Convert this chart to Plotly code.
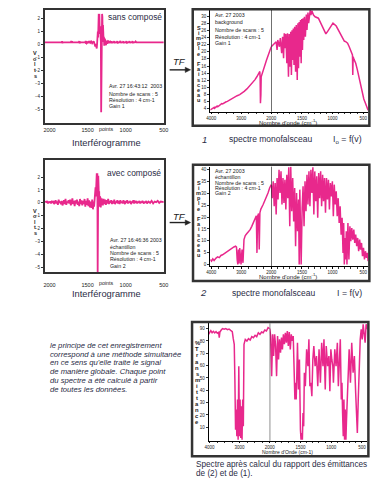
import plotly.graph_objects as go

W, H = 388, 481
PINK = "#E8288C"
DARK = "#333333"
NAVY = "#2a2c45"
FONT = "Liberation Sans"

# ---------------- data ----------------
interf1_points = [2060, 2000, 1900, 1840, 1835, 1830, 1825, 1780, 1720, 1715,
                  1710, 1705, 1700, 1660, 1615, 1610, 1605, 1600, 1595, 1560,
                  1530, 1525, 1520, 1515, 1510, 1500, 1490, 1480, 1470, 1460,
                  1450, 1440, 1430, 1420, 1410, 1400, 1395, 1390, 1385, 1380,
                  1375, 1370, 1366, 1362, 1358, 1354, 1350, 1346, 1342, 1338,
                  1334, 1330, 1326, 1322, 1318, 1314, 1310, 1306, 1302, 1298,
                  1294, 1290, 1286, 1282, 1278, 1274, 1270, 1266, 1262, 1258,
                  1254, 1250, 1246, 1242, 1238, 1234, 1230, 1226, 1222, 1218,
                  1210, 1200, 1190, 1185, 1180, 1175, 1160, 1150, 1145, 1140,
                  1120, 1110, 1105, 1100, 1080, 1070, 1065, 1060, 1040, 1030,
                  1025, 1020, 1000, 990, 985, 980, 960, 950, 945, 940,
                  920, 910, 905, 900, 880, 870, 860, 800, 700, 500]
interf1_volts = [0.17, 0.17, 0.17, 0.17, 0.25, 0.10, 0.17, 0.17, 0.17, 0.27,
                 0.12, 0.24, 0.17, 0.17, 0.17, 0.26, 0.08, 0.22, 0.17, 0.17,
                 0.17, 0.28, 0.05, 0.25, 0.10, 0.17, 0.20, 0.12, 0.27, 0.15,
                 0.22, 0.10, 0.17, 0.25, 0.05, -0.15, 0.05, -0.25, -0.10, -0.30,
                 0.10, 0.45, 1.00, 0.55, 1.60, 2.35, 0.80, 2.35, 1.20, 0.90,
                 1.40, 0.60, 0.20, -5.20, -2.00, 0.40, 2.35, 2.10, 0.30, 1.50,
                 0.90, 0.20, 0.60, -0.10, 0.45, 0.00, 0.35, 0.05, 0.30, -0.05,
                 0.30, 0.10, 0.28, 0.05, 0.25, 0.08, 0.26, 0.10, 0.24, 0.12,
                 0.17, 0.22, 0.12, 0.25, 0.10, 0.17, 0.17, 0.26, 0.10, 0.17,
                 0.17, 0.25, 0.08, 0.17, 0.17, 0.27, 0.10, 0.17, 0.17, 0.24,
                 0.10, 0.17, 0.17, 0.25, 0.08, 0.17, 0.17, 0.26, 0.12, 0.17,
                 0.17, 0.25, 0.10, 0.17, 0.17, 0.24, 0.17, 0.17, 0.17, 0.17]

interf2_points = [2060, 2040, 2030, 2020, 2010, 2000, 1990, 1980, 1970, 1960,
                  1950, 1940, 1930, 1920, 1910, 1900, 1890, 1880, 1870, 1860,
                  1850, 1840, 1830, 1820, 1810, 1800, 1790, 1780, 1770, 1760,
                  1750, 1740, 1730, 1720, 1710, 1700, 1690, 1680, 1670, 1660,
                  1650, 1640, 1630, 1620, 1610, 1600, 1590, 1580, 1570, 1560,
                  1550, 1540, 1530, 1520, 1510, 1500, 1490, 1480, 1470, 1460,
                  1450, 1440, 1430, 1420, 1415, 1410, 1405, 1400, 1396, 1392,
                  1388, 1384, 1380, 1376, 1372, 1368, 1364, 1360, 1356, 1352,
                  1348, 1344, 1340, 1336, 1332, 1328, 1324, 1320, 1316, 1312,
                  1305, 1300, 1290, 1280, 1270, 1260, 1250, 1240, 1230, 1220,
                  1210, 1200, 1190, 1180, 1170, 1160, 1150, 1140, 1130, 1120,
                  1110, 1100, 1090, 1080, 1070, 1060, 1050, 1040, 1030, 1020,
                  1010, 1000, 990, 980, 970, 960, 950, 940, 930, 920,
                  910, 900, 890, 880, 870, 860, 850, 840, 830, 820,
                  810, 800, 790, 780, 770, 760, 750, 740, 730, 720,
                  700, 680, 660, 640, 620, 600, 580, 560, 540, 500]
interf2_volts = [0.10, 0.05, 0.15, -0.05, 0.10, 0.00, 0.12, -0.05, 0.08, 0.00,
                 0.15, -0.10, 0.05, 0.20, -0.05, 0.10, -0.15, 0.25, 0.00, 0.10,
                 -0.10, 0.15, -0.20, 0.05, 0.20, -0.10, 0.30, -0.15, 0.10, 0.00,
                 0.20, -0.05, 0.25, -0.20, 0.10, 0.35, -0.10, 0.15, -0.25, 0.20,
                 -0.05, 0.25, -0.15, 0.10, -0.25, 0.30, -0.10, 0.20, -0.20, 0.15,
                 -0.10, 0.30, -0.30, 0.15, -0.15, 0.35, -0.25, 0.20, -0.35, 0.10,
                 -0.40, 0.25, -0.50, 0.10, -0.30, 0.40, -0.20, 0.60, 1.20, 0.50,
                 2.20, 1.00, 2.30, 0.80, 2.30, -5.40, 0.50, 2.10, 1.30, 0.40,
                 0.90, -0.30, 0.50, -0.20, 0.40, -0.35, 0.30, -0.10, 0.35, -0.15,
                 0.25, -0.20, 0.30, -0.10, 0.25, -0.15, 0.20, -0.05, 0.30, -0.10,
                 0.15, 0.00, 0.20, -0.10, 0.15, -0.05, 0.25, -0.10, 0.10, 0.00,
                 0.20, -0.05, 0.15, -0.10, 0.20, 0.00, 0.10, -0.05, 0.20, 0.05,
                 -0.10, 0.15, 0.00, 0.20, -0.05, 0.10, 0.00, 0.15, -0.10, 0.10,
                 0.00, 0.20, -0.05, 0.10, 0.05, 0.15, -0.05, 0.10, 0.00, 0.15,
                 -0.05, 0.10, 0.00, 0.15, 0.05, -0.05, 0.10, 0.00, 0.15, -0.05,
                 0.10, 0.00, 0.15, -0.05, 0.10, 0.05, 0.15, 0.00, 0.10, 0.05]

# spectrum 1 : background single beam (I0)
s1_left_wn = [4030, 4000, 3950, 3900, 3890, 3850, 3800, 3780, 3730, 3700,
              3650, 3620, 3560, 3500, 3460, 3400, 3350, 3300, 3250, 3200,
              3135, 3050, 2970, 2900, 2810, 2730, 2650, 2600, 2540, 2480,
              2430, 2400, 2380, 2370, 2360, 2352, 2345, 2335, 2325, 2300,
              2270, 2215, 2160, 2110, 2055, 2000]
s1_left_val = [3.7, 3.9, 4.1, 4.4, 4.2, 4.5, 4.8, 4.6, 5.0, 5.2,
               5.5, 5.4, 5.8, 6.0, 6.1, 6.4, 6.7, 7.0, 7.3, 7.5,
               7.7, 8.0, 8.4, 8.9, 9.6, 10.3, 11.0, 11.5, 12.2, 13.0,
               13.6, 14.0, 14.5, 12.5, 5.6, 6.0, 8.0, 13.0, 13.3, 13.8,
               14.3, 16.0, 17.6, 18.8, 20.0, 21.4]
s1_right_wn = [2000, 1973, 1947, 1920, 1905, 1894, 1867, 1852, 1830, 1815,
               1799, 1788, 1777, 1762, 1746, 1735, 1719, 1708, 1698, 1682,
               1671, 1661, 1650, 1640, 1629, 1618, 1603, 1592, 1576, 1565,
               1555, 1544, 1534, 1523, 1512, 1502, 1491, 1481, 1470, 1459,
               1443, 1428, 1417, 1401, 1390, 1374, 1364, 1353, 1337, 1311,
               1284, 1231, 1178, 1141, 1109, 1077, 1046, 993, 940, 887,
               834, 808, 781, 755, 728, 702, 675, 670, 664, 648,
               622, 596, 569, 543, 516, 490, 463, 436, 420]
s1_right_val = [21.4, 21.9, 22.5, 22.8, 20.5, 23.3, 21.4, 23.8, 19.6, 24.2,
                18.2, 25.2, 21.0, 25.0, 16.8, 25.2, 13.0, 25.0, 15.8, 25.6,
                13.5, 26.0, 17.7, 26.5, 16.3, 27.0, 14.4, 27.5, 12.1, 28.0,
                15.4, 28.3, 18.6, 28.9, 16.8, 29.2, 20.5, 29.4, 23.3, 29.8,
                24.2, 30.4, 26.1, 31.0, 28.0, 31.5, 31.7, 30.3, 31.5, 30.3,
                29.8, 29.4, 27.5, 26.0, 25.0, 25.8, 26.6, 28.0, 27.2, 25.6,
                23.8, 23.0, 22.8, 22.4, 21.4, 20.0, 19.1, 13.5, 18.6, 17.8,
                16.8, 15.0, 13.0, 10.5, 8.4, 6.8, 5.6, 4.0, 3.6]

# spectrum 2 : sample single beam (I)
s2_left_wn = [4032, 3989, 3946, 3903, 3838, 3784, 3730, 3676, 3622, 3568,
              3514, 3460, 3405, 3351, 3297, 3243, 3189, 3157, 3135, 3114,
              3092, 3070, 3049, 3027, 3005, 2973, 2941, 2908, 2865, 2811,
              2757, 2703, 2649, 2595, 2541, 2497, 2476, 2454, 2422, 2400,
              2378, 2346, 2270, 2195, 2108, 2054, 2000]
s2_left_val = [2.1, 1.4, 2.4, 1.7, 2.7, 3.2, 2.9, 3.8, 4.1, 4.6,
               5.2, 5.5, 6.0, 6.6, 6.9, 7.4, 7.7, 7.3, 2.1, 0.0,
               6.3, 0.4, 6.9, 1.0, 0.0, 6.3, 0.7, 10.5, 12.2, 13.1,
               13.9, 14.7, 16.1, 17.5, 19.0, 20.6, 4.9, 20.4, 21.5, 6.3,
               21.8, 23.4, 25.3, 27.4, 30.2, 32.3, 33.7]
s2_right_wn = [2000, 1984, 1968, 1952, 1936, 1920, 1905, 1889, 1873, 1857,
               1841, 1825, 1809, 1793, 1777, 1762, 1746, 1730, 1714, 1698,
               1682, 1666, 1650, 1634, 1618, 1603, 1587, 1571, 1555, 1544,
               1534, 1523, 1512, 1496, 1481, 1465, 1449, 1433, 1417, 1401,
               1385, 1369, 1353, 1337, 1321, 1305, 1290, 1274, 1258, 1242,
               1226, 1210, 1194, 1178, 1162, 1147, 1131, 1115, 1099, 1083,
               1067, 1051, 1035, 1019, 1003, 987, 972, 956, 940, 924,
               908, 892, 876, 860, 844, 829, 818, 808, 797, 786,
               776, 765, 749, 733, 717, 702, 686, 670, 653, 638,
               622, 606, 590, 574, 558, 543, 527, 511, 495, 479,
               463, 447, 431, 420]
s2_right_val = [33.7, 28.0, 35.1, 24.6, 34.4, 21.1, 36.5, 27.4, 40.0, 30.2,
                39.3, 25.3, 36.5, 26.0, 35.8, 23.2, 37.9, 28.0, 41.0, 16.1,
                41.4, 22.5, 36.5, 18.2, 32.3, 7.7, 30.2, 14.0, 27.4, 0.0,
                31.6, 8.4, 0.0, 23.9, 33.0, 16.1, 35.1, 22.5, 37.9, 25.3,
                39.3, 24.6, 40.0, 30.2, 41.0, 21.1, 39.3, 26.7, 37.2, 19.7,
                38.6, 28.0, 39.3, 24.6, 37.9, 26.7, 36.5, 21.8, 36.5, 27.4,
                35.8, 23.2, 34.4, 28.7, 35.1, 20.4, 33.7, 25.3, 30.9, 20.4,
                28.0, 17.5, 24.6, 12.6, 19.7, 4.9, 17.5, 0.0, 11.2, 2.1,
                14.0, 0.0, 17.5, 2.1, 16.1, 9.8, 15.4, 10.5, 14.7, 9.1,
                12.6, 7.7, 11.2, 5.6, 10.5, 6.3, 9.1, 3.5, 7.0, 2.1,
                5.6, 2.8, 4.9, 1.4]

# spectrum 3 : % transmittance (ratio 2 / 1)
s3_left_wn = [4032, 4000, 3957, 3914, 3870, 3827, 3784, 3741, 3697, 3676,
              3654, 3611, 3568, 3514, 3459, 3405, 3351, 3297, 3243, 3211,
              3178, 3157, 3135, 3114, 3092, 3070, 3049, 3027, 3005, 2984,
              2962, 2941, 2919, 2897, 2876, 2854, 2811, 2757, 2703, 2649,
              2595, 2541, 2486, 2432, 2378, 2324, 2270, 2216, 2162, 2108,
              2054, 2000]
s3_left_val = [85.4, 86.7, 88.4, 86.7, 87.8, 86.5, 87.6, 86.2, 87.0, 82.7,
               87.3, 88.9, 90.0, 89.5, 90.0, 89.2, 89.7, 88.6, 87.6, 81.9,
               77.3, 48.8, 8.1, 24.4, 2.7, 32.5, 0.0, 59.6, 2.7, 32.5,
               1.3, 27.1, 0.0, 32.5, 10.8, 77.3, 81.3, 80.0, 81.9, 80.8,
               83.5, 82.7, 84.6, 83.5, 86.7, 85.4, 87.3, 86.7, 88.9, 88.1,
               90.8, 90.0]
s3_right_wn = [2000, 1984, 1968, 1952, 1936, 1920, 1904, 1888, 1872, 1856,
               1840, 1824, 1808, 1793, 1777, 1761, 1745, 1729, 1713, 1697,
               1681, 1665, 1649, 1633, 1617, 1601, 1590, 1580, 1569, 1559,
               1548, 1532, 1516, 1500, 1490, 1479, 1468, 1458, 1447, 1436,
               1420, 1399, 1378, 1362, 1346, 1330, 1314, 1298, 1282, 1261,
               1239, 1218, 1197, 1175, 1154, 1133, 1117, 1096, 1080, 1058,
               1037, 1021, 1005, 989, 973, 963, 941, 920, 899, 883,
               867, 851, 835, 824, 814, 803, 792, 782, 771, 760,
               750, 739, 723, 707, 686, 665, 643, 622, 601, 590,
               574, 559, 543, 527, 511, 495, 479, 463, 447, 431,
               415, 410]
s3_right_val = [90.0, 84.0, 51.5, 85.4, 67.8, 85.4, 75.9, 51.5, 84.0, 65.0,
                81.3, 70.5, 82.7, 73.2, 85.4, 77.3, 86.7, 78.6, 88.1, 75.9,
                87.3, 73.2, 85.4, 80.0, 84.0, 59.6, 32.5, 46.1, 32.5, 51.5,
                78.6, 40.6, 65.0, 8.1, 0.0, 5.4, 0.0, 21.7, 10.8, 54.2,
                43.4, 73.2, 59.6, 81.3, 43.4, 46.1, 35.2, 65.0, 75.9, 59.6,
                67.8, 43.4, 73.2, 46.1, 78.6, 59.6, 81.3, 40.6, 75.9, 59.6,
                67.8, 39.3, 73.2, 65.0, 59.6, 46.1, 73.2, 59.6, 78.6, 43.4,
                65.0, 81.3, 32.5, 46.1, 21.7, 2.7, 32.5, 0.0, 24.4, 0.0,
                16.3, 32.5, 54.2, 73.2, 46.1, 78.6, 54.2, 67.8, 37.9, 16.3,
                5.4, 32.5, 59.6, 81.3, 89.5, 81.3, 93.5, 86.7, 78.6, 93.5,
                92.2, 89.5]

volt_ticks = [-5, -4, -3, -2, -1, 0, 1, 2]
point_ticks = [2000, 1500, 1000, 500]
s1_ticks = [4, 6, 8, 10, 12, 14, 16, 18, 20, 22, 24, 26, 28, 30]
s2_ticks = [0, 5, 10, 15, 20, 25, 30, 35, 40]
s3_ticks = [10, 20, 30, 40, 50, 60, 70, 80, 90]
wn_left_ticks = [4000, 3000]
wn_right_ticks = [2000, 1500, 1000, 500]

for a, b in [(interf1_points, interf1_volts), (interf2_points, interf2_volts),
             (s1_left_wn, s1_left_val), (s1_right_wn, s1_right_val),
             (s2_left_wn, s2_left_val), (s2_right_wn, s2_right_val),
             (s3_left_wn, s3_left_val), (s3_right_wn, s3_right_val)]:
    assert len(a) == len(b), (len(a), len(b))


def fx(px):
    return px / W


def fy(py):
    return 1 - py / H


fig = go.Figure()


def line(x, y, xa, ya, width=1.5):
    fig.add_trace(go.Scatter(x=x, y=y, xaxis=xa, yaxis=ya, mode="lines",
                             line=dict(color=PINK, width=width), hoverinfo="skip"))


line(interf1_points, interf1_volts, "x", "y", 1.8)
line(interf2_points, interf2_volts, "x2", "y2", 1.8)
line(s1_left_wn, s1_left_val, "x3", "y3")
line(s1_right_wn, s1_right_val, "x4", "y3")
line(s2_left_wn, s2_left_val, "x5", "y4")
line(s2_right_wn, s2_right_val, "x6", "y4")
line(s3_left_wn, s3_left_val, "x7", "y5")
line(s3_right_wn, s3_right_val, "x8", "y5")

tick_font = dict(family=FONT, size=4.5, color="#222")


def interf_x(domain, anchor, standoff):
    return dict(domain=domain, anchor=anchor, range=[2060, 500], tickvals=point_ticks,
                tickfont=dict(family=FONT, size=5.5, color="#222"), showgrid=False,
                zeroline=False, showline=True, mirror=True, linewidth=2, linecolor=DARK,
                ticks="outside", ticklen=standoff, tickcolor="rgba(0,0,0,0)")


def interf_y(domain, anchor, rng):
    return dict(domain=domain, anchor=anchor, range=rng, tickvals=volt_ticks,
                tickfont=tick_font, showgrid=False, zeroline=False, showline=True,
                mirror=True, linewidth=2, linecolor=DARK, ticks="outside", ticklen=2,
                tickcolor=DARK)


def spec_x(domain, anchor, rng, tv, minor):
    return dict(domain=domain, anchor=anchor, range=rng, tickvals=tv, tickfont=tick_font,
                showgrid=False, zeroline=False, showline=True, linewidth=1, linecolor="black",
                ticks="outside", ticklen=1.5, tickwidth=0.8, tickcolor="black",
                minor=dict(ticks="outside", ticklen=1.5, dtick=minor, tickcolor="black"))


def spec_y(domain, anchor, rng, tv):
    return dict(domain=domain, anchor=anchor, range=rng, tickvals=tv, tickfont=tick_font,
                showgrid=False, zeroline=False, showline=True, linewidth=1, linecolor="black",
                ticks="outside", ticklen=2, tickwidth=0.8, tickcolor="black")


XL = [fx(210.7), fx(273.3)]
XR = [fx(273.3), fx(372.7)]
XL3 = [fx(209), fx(271.7)]
XR3 = [fx(271.7), fx(372)]

fig.update_layout(
    width=W, height=H, margin=dict(l=0, r=0, t=0, b=0),
    paper_bgcolor="white", plot_bgcolor="white", showlegend=False,
    xaxis=interf_x([fx(41), fx(163)], "y", 1),
    yaxis=interf_y([fy(123), fy(10)], "x", [-6.0, 2.65]),
    xaxis2=interf_x([fx(41), fx(163)], "y2", 6),
    yaxis2=interf_y([fy(273), fy(160)], "x2", [-5.4, 3.35]),
    xaxis3=spec_x(XL, "y3", [4030, 2000], wn_left_ticks, 250),
    xaxis4=spec_x(XR, "y3", [2000, 420], wn_right_ticks, 100),
    yaxis3=spec_y([fy(112), fy(10)], "x3", [3.2, 31.7], s1_ticks),
    xaxis5=spec_x(XL, "y4", [4030, 2000], wn_left_ticks, 250),
    xaxis6=spec_x(XR, "y4", [2000, 420], wn_right_ticks, 100),
    yaxis4=spec_y([fy(266.7), fy(167)], "x5", [-0.7, 41.3], s2_ticks),
    xaxis7=spec_x(XL3, "y5", [4030, 2000], wn_left_ticks, 250),
    xaxis8=spec_x(XR3, "y5", [2000, 410], wn_right_ticks, 100),
    yaxis5=spec_y([fy(441.7), fy(324)], "x7", [-0.9, 94.3], s3_ticks),
)

shapes = []
# outer frames around spectra
for (x0, y0, x1, y1) in [(192.7, 9.3, 374, 126), (193, 165, 374, 281.7), (192, 322.7, 373, 457.3)]:
    shapes.append(dict(type="rect", xref="paper", yref="paper", x0=fx(x0), x1=fx(x1),
                       y0=fy(y1), y1=fy(y0), line=dict(color=DARK, width=2.5)))
# vertical line at 2000 cm-1 in each spectrum
for xr, yr in [("x4", "y3"), ("x6", "y4"), ("x8", "y5")]:
    shapes.append(dict(type="line", xref=xr, yref=yr + " domain", x0=2000, x1=2000,
                       y0=0, y1=1, line=dict(color="black", width=1)))
# "TF" arrows (shaft + filled head)
for yy in [70, 223]:
    shapes.append(dict(type="line", xref="paper", yref="paper", x0=fx(169), x1=fx(186),
                       y0=fy(yy), y1=fy(yy), line=dict(color="#222", width=1.4)))
    shapes.append(dict(type="path", xref="paper", yref="paper",
                       path="M {} {} L {} {} L {} {} Z".format(fx(185), fy(yy - 2.6), fx(190.5), fy(yy),
                                                            fx(185), fy(yy + 2.6)),
                       fillcolor="#222", line=dict(color="#222", width=0.5)))
fig.update_layout(shapes=shapes)

anns = []


def ann(text, x, y, size, color=NAVY, xanchor="center", yanchor="middle", family=FONT):
    anns.append(dict(text=text, x=fx(x), y=fy(y), xref="paper", yref="paper",
                     showarrow=False, xanchor=xanchor, yanchor=yanchor,
                     font=dict(family=family, size=size, color=color)))


# panel titles / labels
ann("sans composé", 133, 17, 8.4)
ann("avec composé", 132, 173.5, 8.4)
ann("Interférogramme", 104, 143, 9.3)
ann("Interférogramme", 104, 295, 9.3)
ann("points", 104, 129.5, 5.3, "#222")
ann("points", 104, 284, 5.3, "#222")
ann("<i>1</i>", 205, 139.5, 9.5)
ann("spectre monofalsceau", 273, 139.5, 8.5)
ann("I<sub>o</sub> = f(v)", 352, 139.5, 8.8)
ann("<i>2</i>", 204, 293.5, 9.5)
ann("spectre monofalsceau", 276, 293.5, 8.5)
ann("I = f(v)", 354, 293.5, 8.8)
ann("Nombre d'onde (cm<sup>-1</sup>)", 290, 122.5, 6, "#222")
ann("Nombre d'onde (cm<sup>-1</sup>)", 290, 276.5, 6, "#222")
ann("Nombre d'Onde (cm-1)", 290, 452.5, 5, "#222")
ann("<i>TF</i>", 179, 62, 9.5, "#222")
ann("<i>TF</i>", 179, 216.5, 9.5, "#222")

# info blocks
info_blocks = [
    (105, [86, 94, 100, 106], ["Avr. 27 16:43:12  2003", "Nombre de scans : 5",
                               "Résolution : 4 cm-1", "Gain 1"]),
    (106, [240.7, 247.7, 253.7, 259.5, 266.5], ["Avr. 27 16:46:36 2003", "échantillon",
                                                "Nombre de scans : 5", "Résolution : 4 cm-1", "Gain 2"]),
    (214, [15, 22.5, 30.5, 37, 43.3], ["Avr. 27 2003", "background", "Nombre de scans : 5",
                                       "Résolution : 4 cm-1", "Gain 1"]),
    (214, [171.7, 177.3, 183.3, 188.3, 193.3], ["Avr. 27 2003", "échantillon",
                                                 "Nombre de scans : 5", "Résolution : 4 cm-1", "Gain 2"]),
]
for x0, ys, texts in info_blocks:
    for yy, t in zip(ys, texts):
        ann(t, x0, yy, 5.3, "#222", xanchor="left")


# stacked vertical axis titles
def stacked(word, x, y0, step, size=5.5):
    k = 0
    for ch in word:
        if ch != " ":
            ann("<b>" + ch + "</b>", x, y0 + k * step, size, "#222")
        k += 1


stacked("Volts", 31, 53, 5.7)
stacked("Volts", 31, 211, 5.5)
stacked("Simple Faisceau", 199, 27.7, 5.2)
stacked("Simple Faisceau", 199, 183, 5.2)
stacked("%Transmittance", 197.5, 344, 6.1, 5.8)

# explanatory paragraph
para = ["le principe de cet enregistrement", "correspond à une méthode simultanée",
        "en ce sens qu'elle traite le signal", "de manière globale. Chaque point",
        "du spectre a été calculé à partir", "de toutes les données."]
for t, yy in zip(para, [346, 355, 363.5, 372.5, 381.5, 390.5]):
    ann("<i>" + t + "</i>", 44.5, yy, 7.7, NAVY, xanchor="left")

ann("Spectre après calcul du rapport des émittances", 194, 465, 8.2, NAVY, xanchor="left")
ann("de (2) et de (1).", 194, 474.5, 8.2, NAVY, xanchor="left")

fig.update_layout(annotations=anns)
fig.write_html("out.html", config={"displayModeBar": False, "staticPlot": True},
               post_script="document.body.style.margin='0px';document.body.style.overflow='hidden';")
